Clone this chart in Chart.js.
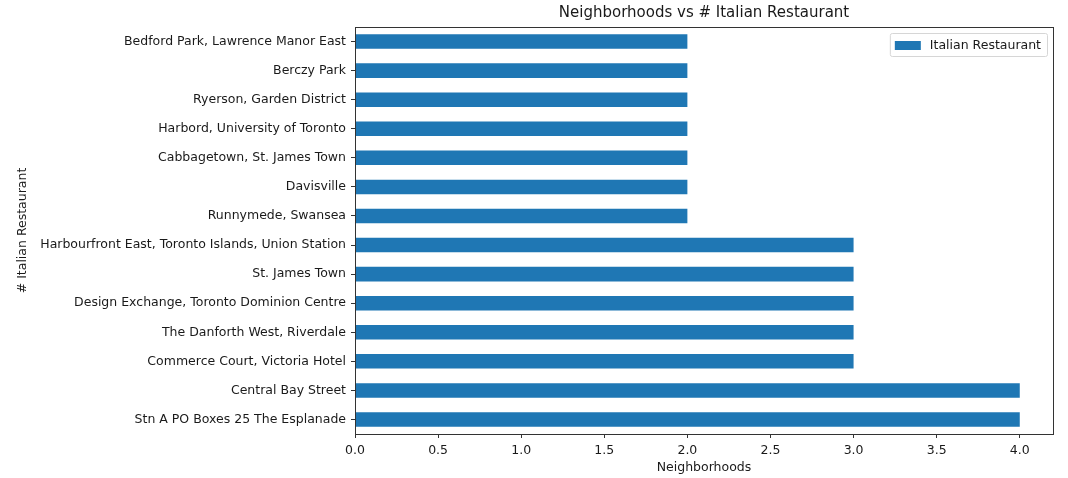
<!DOCTYPE html>
<html>
<head>
<meta charset="utf-8">
<script src="https://cdn.jsdelivr.net/npm/chart.js@4"></script>
<style>
html,body{margin:0;padding:0;background:#fff;}
#wrap{width:1068px;height:478px;position:relative;}
</style>
</head>
<body>
<div id="wrap"><canvas id="c"></canvas></div>
<script>
const chartTitle = "Neighborhoods vs # Italian Restaurant";
const xAxisTitle = "Neighborhoods";
const yAxisTitle = "# Italian Restaurant";
const seriesName = "Italian Restaurant";
const neighborhoods = [
  "Bedford Park, Lawrence Manor East",
  "Berczy Park",
  "Ryerson, Garden District",
  "Harbord, University of Toronto",
  "Cabbagetown, St. James Town",
  "Davisville",
  "Runnymede, Swansea",
  "Harbourfront East, Toronto Islands, Union Station",
  "St. James Town",
  "Design Exchange, Toronto Dominion Centre",
  "The Danforth West, Riverdale",
  "Commerce Court, Victoria Hotel",
  "Central Bay Street",
  "Stn A PO Boxes 25 The Esplanade"
];
const italianCounts = [2, 2, 2, 2, 2, 2, 2, 3, 3, 3, 3, 3, 4, 4];
const xTicks = [0, 0.5, 1.0, 1.5, 2.0, 2.5, 3.0, 3.5, 4.0];

const FONT = "'DejaVu Sans', sans-serif";
const TXT = '#1a1a1a';
const FS = 12.5;

const framePlugin = {
  id: 'frame',
  afterDraw(chart) {
    const {ctx, chartArea: a} = chart;
    ctx.save();
    ctx.strokeStyle = '#333';
    ctx.lineWidth = 1;
    ctx.strokeRect(Math.round(a.left) + 0.5, Math.round(a.top) + 0.5,
                   Math.round(a.right - a.left), Math.round(a.bottom - a.top));
    // title centered on plot area
    ctx.fillStyle = TXT;
    ctx.font = "15px " + FONT;
    ctx.textAlign = 'center';
    ctx.textBaseline = 'middle';
    ctx.fillText(chartTitle, (a.left + a.right) / 2, 13);
    // legend box (top right, inside plot)
    const ds = chart.data.datasets[0];
    ctx.font = FS + "px " + FONT;
    const tw = ctx.measureText(ds.label).width;
    const bw = tw + 46, bh = 23;
    const bx = a.right - 6 - bw, by = a.top + 6;
    ctx.fillStyle = 'rgba(255,255,255,0.8)';
    ctx.strokeStyle = '#d6d6d6';
    ctx.beginPath();
    if (ctx.roundRect) ctx.roundRect(bx + 0.5, by + 0.5, bw, bh, 2); else ctx.rect(bx + 0.5, by + 0.5, bw, bh);
    ctx.fill(); ctx.stroke();
    ctx.fillStyle = ds.backgroundColor;
    ctx.fillRect(bx + 5, by + 8, 26, 9);
    ctx.fillStyle = TXT;
    ctx.textAlign = 'left';
    ctx.fillText(ds.label, bx + 40, by + bh / 2 + 1);
    ctx.restore();
  }
};

new Chart(document.getElementById('c'), {
  type: 'bar',
  data: {
    labels: neighborhoods,
    datasets: [{
      label: seriesName,
      data: italianCounts,
      backgroundColor: '#1f77b4',
      borderWidth: 0,
      categoryPercentage: 1.0,
      barPercentage: 0.5
    }]
  },
  options: {
    indexAxis: 'y',
    responsive: true,
    maintainAspectRatio: false,
    animation: false,
    devicePixelRatio: 1,
    layout: { padding: { top: 27, right: 15, bottom: 0, left: 0 } },
    plugins: {
      legend: { display: false },
      title: { display: false },
      tooltip: { enabled: false }
    },
    scales: {
      x: {
        type: 'linear',
        min: 0,
        max: 4.2,
        afterBuildTicks(scale) { scale.ticks = xTicks.map(v => ({ value: v })); },
        afterFit(scale) { scale.height = 44; },
        border: { display: false },
        grid: { drawOnChartArea: false, drawTicks: true, tickLength: 4, tickColor: '#333' },
        ticks: {
          color: TXT, font: { family: FONT, size: FS }, padding: 5,
          maxRotation: 0, autoSkip: false,
          callback: v => Number(v).toFixed(1)
        },
        title: { display: true, text: xAxisTitle, color: TXT, font: { family: FONT, size: FS }, padding: { top: 0, bottom: 3 } }
      },
      y: {
        afterFit(scale) { scale.width = 355; },
        border: { display: false },
        grid: { drawOnChartArea: false, drawTicks: true, tickLength: 4, tickColor: '#333', offset: false },
        ticks: { color: TXT, font: { family: FONT, size: FS }, padding: 5, autoSkip: false },
        title: { display: true, text: yAxisTitle, color: TXT, font: { family: FONT, size: FS }, padding: { top: 15, bottom: 0 } }
      }
    }
  },
  plugins: [framePlugin]
});
</script>
</body>
</html>
